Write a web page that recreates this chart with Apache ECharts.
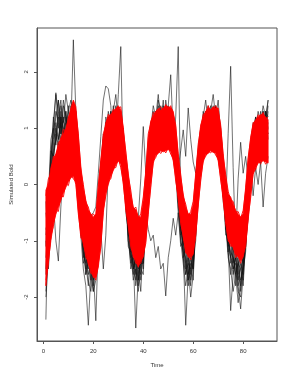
<!DOCTYPE html>
<html>
<head>
<meta charset="utf-8">
<script src="https://cdn.jsdelivr.net/npm/echarts@6/dist/echarts.min.js"></script>
<style>html,body{margin:0;padding:0;background:#fff}#c{width:291px;height:376px}</style>
</head>
<body>
<div id="c"></div>
<script>
// time points 1..90
var time = [];
for (var k = 1; k <= 90; k++) time.push(k);

var xTicks = [0, 20, 40, 60, 80];
var yTicks = [-2, -1, 0, 1, 2];

// red simulated band (upper / lower envelope of red lines)
var redUpper = [
-0.1,0.0,0.3,0.45,0.55,0.68,0.83,0.9,1.0,1.15,
1.36,1.5,1.38,0.85,0.32,-0.05,-0.28,-0.45,-0.52,-0.58,
-0.52,-0.05,0.45,0.85,1.1,1.2,1.25,1.3,1.35,1.4,
1.32,1.02,0.55,0.2,-0.17,-0.4,-0.45,-0.57,-0.58,-0.28,
0.25,0.83,1.13,1.22,1.3,1.35,1.32,1.36,1.4,1.38,
1.37,1.3,1.02,0.55,0.13,-0.17,-0.4,-0.52,-0.53,-0.35,
0.2,0.66,1.06,1.2,1.3,1.36,1.33,1.38,1.36,1.36,
1.02,0.55,0.13,-0.17,-0.22,-0.35,-0.46,-0.53,-0.58,-0.52,
-0.05,0.43,0.84,1.06,1.15,1.2,1.24,1.25,1.2,1.15];
var redLower = [
-1.8,-1.35,-1.0,-0.7,-0.53,-0.4,-0.28,-0.15,-0.05,0.05,
0.12,0.15,0.0,-0.53,-0.88,-1.06,-1.24,-1.42,-1.52,-1.65,
-1.65,-1.47,-1.06,-0.5,-0.15,0.0,0.15,0.25,0.35,0.42,
0.36,0.0,-0.4,-0.76,-1.06,-1.29,-1.35,-1.47,-1.35,-1.29,
-1.0,-0.53,0.0,0.38,0.52,0.55,0.6,0.58,0.6,0.62,
0.58,0.42,0.12,-0.28,-0.64,-0.94,-1.17,-1.29,-1.29,-1.24,
-0.88,-0.4,0.12,0.4,0.53,0.55,0.6,0.57,0.56,0.42,
0.12,-0.28,-0.64,-1.0,-1.06,-1.12,-1.24,-1.29,-1.35,-1.29,
-1.06,-0.64,-0.18,0.18,0.3,0.38,0.4,0.42,0.4,0.38];

// a few individual red lines along the edges of the band (jagged texture)
var redEdgeHi = [
-0.2,0.1,0.2,0.5,0.48,0.75,0.78,0.98,0.95,1.2,
1.3,1.45,1.3,0.9,0.25,0.0,-0.32,-0.4,-0.58,-0.52,
-0.6,0.0,0.38,0.9,1.05,1.25,1.18,1.34,1.3,1.36,
1.38,0.95,0.6,0.15,-0.1,-0.45,-0.4,-0.6,-0.52,-0.22,
0.2,0.9,1.08,1.28,1.25,1.32,1.38,1.3,1.42,1.33,
1.4,1.25,1.06,0.5,0.18,-0.22,-0.35,-0.56,-0.48,-0.3,
0.15,0.72,1.0,1.25,1.26,1.4,1.3,1.34,1.4,1.3,
1.06,0.5,0.18,-0.12,-0.28,-0.3,-0.5,-0.48,-0.6,-0.46,
-0.1,0.48,0.8,1.1,1.12,1.24,1.2,1.28,1.16,1.2];
var redEdgeLo = [
-1.7,-1.4,-0.92,-0.75,-0.45,-0.48,-0.2,-0.22,0.02,-0.02,
0.18,0.1,0.05,-0.48,-0.95,-1.0,-1.3,-1.36,-1.58,-1.6,
-1.7,-1.4,-1.12,-0.44,-0.2,0.06,0.1,0.3,0.3,0.46,
0.3,0.05,-0.46,-0.7,-1.12,-1.24,-1.4,-1.42,-1.4,-1.24,
-1.05,-0.48,-0.06,0.42,0.48,0.6,0.55,0.63,0.56,0.66,
0.54,0.46,0.06,-0.22,-0.7,-0.9,-1.22,-1.25,-1.34,-1.2,
-0.92,-0.35,0.06,0.44,0.5,0.6,0.56,0.62,0.52,0.46,
0.08,-0.22,-0.7,-0.95,-1.1,-1.08,-1.3,-1.25,-1.4,-1.24,
-1.1,-0.58,-0.24,0.22,0.26,0.42,0.36,0.46,0.36,0.42];

// black observed lines
var blackA = [
-0.9,-0.3,0.5,0.9,1.3,1.1,0.8,1.2,0.9,1.4,
1.0,2.57,1.3,0.4,-0.4,-1.2,-1.5,-1.3,-1.7,-1.4,
-1.6,-0.9,0.2,0.5,1.1,0.8,1.2,0.9,1.3,1.0,
1.2,0.6,-0.3,-0.9,-1.0,-1.5,-1.3,-1.7,-1.2,-1.3,
-0.3,0.4,0.7,1.2,0.9,1.3,1.0,1.4,1.1,0.9,
1.3,0.8,0.4,-0.3,-0.6,-1.3,-1.1,-1.6,-1.3,-1.5,
-0.5,0.1,0.9,0.8,1.2,1.0,1.3,0.9,1.4,0.8,
0.7,-0.2,-0.5,-1.1,-1.0,-1.5,-1.3,-1.7,-1.4,-1.6,
-0.8,0.1,0.4,0.9,0.7,1.1,0.8,1.2,0.9,1.1];
var blackB = [
-1.5,-0.8,0.1,0.6,0.8,1.2,1.5,0.9,1.1,0.7,
1.3,0.9,0.6,-0.1,-0.9,-1.0,-1.4,-1.8,-1.3,-1.6,
-1.2,-0.6,-0.2,0.8,0.6,1.2,0.9,1.4,0.8,1.6,
2.45,0.3,0.1,-1.0,-1.4,-1.2,-1.8,-1.4,-1.6,-0.9,
-0.7,0.5,1.0,0.7,1.3,0.9,1.2,0.8,1.3,1.4,
0.8,1.1,0.3,0.0,-0.9,-0.8,-1.5,-1.3,-1.8,-1.1,
-0.8,0.4,0.6,1.2,0.9,1.4,1.0,1.3,0.9,1.2,
0.4,0.3,-0.8,-0.8,-1.4,-1.2,-1.8,-1.3,-1.9,-1.2,
-1.1,-0.3,0.7,0.6,1.1,0.9,1.3,0.7,1.0,1.4];
var blackC = [
-0.5,-0.9,0.4,1.0,0.7,1.5,0.9,1.1,1.3,0.8,
1.2,1.0,0.5,0.3,-0.8,-0.9,-1.6,-1.2,-1.5,-1.9,
-1.3,-0.5,0.3,0.4,1.2,1.0,0.7,1.3,1.1,0.8,
1.1,0.7,-0.4,-0.6,-1.3,-1.6,-1.2,-1.5,-1.9,-1.0,
-0.4,0.1,1.1,0.9,0.8,1.4,1.2,0.9,1.5,1.2,
1.0,0.6,1.2,2.45,-0.2,-1.3,-1.6,-1.2,-1.7,-1.4,
-0.4,0.5,0.5,1.1,1.3,0.8,1.2,1.4,1.0,1.3,
0.5,0.2,-0.9,-0.9,-1.3,-1.6,-1.2,-1.8,-1.5,-1.3,
-0.6,0.2,0.3,1.0,1.2,0.8,1.1,1.3,0.9,1.3];
var blackD = [
-1.1,-0.1,0.2,0.7,1.1,0.8,1.3,1.0,0.7,1.2,
0.9,1.4,1.1,0.1,-0.3,-1.3,-1.1,-1.6,-1.4,-1.2,
-1.5,-1.1,0.1,0.8,0.7,1.1,1.3,0.8,1.2,1.3,
0.9,0.2,-0.1,-0.7,-1.1,-1.4,-1.7,-1.3,-1.5,-1.6,
-0.6,0.2,0.6,1.1,1.3,0.8,1.1,1.5,0.9,1.2,
1.1,1.2,0.6,-0.4,-0.8,-1.0,-1.4,-1.7,-1.3,-1.2,
-0.9,0.0,0.9,1.1,0.8,1.3,1.0,0.8,1.2,1.5,
0.9,-0.2,-0.4,0.9,2.1,0.3,-1.1,-1.4,-1.7,-1.5,
-1.2,-0.4,0.5,0.6,1.0,1.2,0.9,1.3,1.1,1.5];
var blackE = [
-0.3,-1.2,-0.6,0.4,0.9,0.6,1.2,0.8,1.3,0.9,
0.7,1.2,1.0,0.5,0.1,-0.7,-1.3,-1.1,-1.5,-1.3,
-1.0,-1.2,-0.8,-1.5,-0.9,0.3,0.8,1.1,0.7,1.2,
0.8,1.0,0.2,-0.5,-0.9,-1.2,-1.6,-1.1,-1.4,-1.3,
-0.8,-0.2,0.5,0.8,1.1,0.7,1.3,1.0,0.8,1.3,
0.9,0.5,0.7,0.3,0.6,0.97,0.5,1.36,0.8,0.4,
0.2,0.6,1.0,0.7,1.2,0.9,1.3,0.8,1.1,0.9,
0.3,0.1,-0.6,-1.2,-0.9,-1.4,-1.1,-1.6,-1.2,-1.4,
-1.0,-0.6,0.2,0.9,0.6,1.2,0.9,1.0,1.3,0.8];
var blackF = [
-1.9,-1.0,-0.3,0.5,0.8,1.2,0.9,1.4,1.1,0.6,
1.1,1.3,0.8,0.2,-0.2,-0.4,-0.6,-0.5,-0.55,-0.5,
-0.4,0.2,0.85,1.5,1.75,1.7,1.4,0.6,1.0,1.2,
0.9,0.5,0.0,-0.8,-1.0,-1.5,-1.4,-1.3,-1.7,-0.9,
-0.5,-0.8,-1.0,-0.9,-1.3,-1.1,-1.5,-1.4,-1.98,-1.3,
-1.0,-0.6,-0.9,-0.5,-1.1,-1.0,-1.4,-1.8,-1.5,-1.2,
-0.3,0.4,0.7,1.0,0.8,1.2,1.1,0.8,1.3,1.1,
0.6,0.2,-0.3,-1.0,-1.3,-1.1,-1.6,-1.4,-1.3,-1.8,
-1.0,0.0,0.6,0.8,1.0,0.7,1.2,0.8,1.0,0.9];
var blackG = [
-0.8,-0.6,0.2,1.1,1.6,1.3,1.0,1.5,1.2,0.9,
1.4,1.1,0.7,-0.2,-0.9,-1.5,-1.8,-2.5,-1.6,-1.9,
-1.7,-0.5,0.4,0.5,0.9,1.3,1.0,1.1,1.4,0.9,
1.3,0.9,-0.5,-0.8,-1.5,-1.3,-2.55,-1.6,-1.2,-1.5,
-0.2,0.6,0.8,1.3,1.0,1.5,1.3,1.0,1.2,0.8,
1.2,0.7,0.2,-0.5,-1.0,-1.4,-1.8,-1.5,-2.0,-1.6,
-0.7,0.3,0.8,1.3,1.0,1.1,1.4,1.2,0.9,1.0,
0.8,-0.3,-0.7,-1.3,-1.5,-1.9,-1.6,-2.1,-1.7,-1.5,
-0.9,-0.2,0.6,0.7,0.9,1.0,1.2,1.0,1.3,1.2];
var blackH = [
-2.0,-1.3,0.0,0.8,1.2,1.5,1.1,0.8,1.0,1.3,
0.9,1.2,1.0,0.0,-0.5,-1.4,-1.2,-1.7,-1.9,-1.5,
-2.42,-1.0,-0.3,0.7,1.0,0.7,1.2,1.0,0.8,1.1,
1.0,0.4,-0.2,-1.1,-1.2,-1.7,-1.5,-1.9,-1.4,-1.1,
-0.5,0.3,0.9,1.0,1.2,1.0,0.9,1.2,1.0,1.1,
1.1,0.9,0.5,0.1,-1.0,-1.2,-2.5,-1.6,-1.4,-1.7,
-0.6,0.1,0.7,0.9,1.1,1.3,0.9,1.2,1.0,0.8,
0.5,0.0,-0.5,-1.2,-1.6,-1.3,-1.5,-1.9,-2.0,-1.3,
-0.8,-0.1,0.4,1.0,0.8,0.9,1.1,1.0,0.8,1.0];
var blackI = [
-2.4,-0.4,0.6,0.5,1.0,0.8,1.1,0.7,1.2,1.0,
1.3,0.8,1.0,0.6,-0.6,-1.0,-1.3,-1.5,-1.2,-1.7,
-1.4,-0.8,0.0,0.6,0.8,1.0,0.7,1.2,1.0,1.3,
0.7,0.6,-0.3,-0.6,-1.2,-1.1,-1.5,-1.8,-1.3,-1.4,
-0.4,0.0,0.8,0.9,1.1,1.2,0.9,1.2,1.1,1.0,
0.9,1.0,0.7,-0.2,-0.5,-1.0,-1.2,-1.7,-1.5,-1.3,
-0.7,0.3,0.6,0.9,1.2,1.0,1.1,1.3,1.2,0.9,
0.7,0.2,-0.8,-1.1,-2.24,-1.6,-1.3,-1.8,-2.21,-1.6,
-0.7,-0.3,0.5,0.7,1.2,0.9,1.0,1.2,1.1,0.9];
var blackJ = [
-1.0,-1.5,-0.8,-0.3,-1.0,-1.36,-0.4,0.3,0.6,1.0,
0.8,1.0,1.3,0.8,-0.1,-0.9,-1.2,-1.4,-1.1,-1.3,
-1.1,-0.7,0.0,0.5,0.9,0.6,1.0,0.9,1.2,0.7,
0.9,0.8,0.0,-0.5,-1.1,-1.0,-1.3,-0.6,0.1,1.03,
0.2,0.5,0.5,0.7,0.9,1.1,0.8,1.3,1.0,0.8,
1.0,0.8,0.4,0.1,-0.4,-1.0,-1.1,-1.3,-1.6,-1.4,
-1.0,-0.2,0.4,0.8,0.7,1.1,0.9,1.1,0.8,1.2,
1.0,0.4,0.0,-0.6,-0.9,-1.2,-1.0,0.1,0.75,0.2,
0.5,0.1,0.4,-0.2,0.3,0.0,0.4,-0.4,0.2,0.5];
var blackK = [
-1.3,-0.7,0.5,1.2,0.9,0.7,1.2,1.0,0.8,1.1,
1.2,0.9,1.2,0.3,-0.7,-1.2,-1.4,-1.2,-1.6,-1.4,
-1.3,-0.7,0.2,0.9,0.6,0.9,1.3,1.1,0.9,1.2,
1.1,0.5,-0.1,-1.0,-1.3,-1.2,-1.4,-1.7,-1.3,-1.1,
-0.6,0.4,0.8,1.1,0.8,1.0,1.4,1.1,1.3,0.9,
1.2,1.0,0.4,-0.3,-0.8,-1.2,-1.3,-1.5,-1.2,-1.5,
-0.5,0.4,0.8,0.9,1.3,1.0,1.2,1.1,1.4,1.1,
0.5,-0.1,-0.6,-0.9,-1.2,-1.3,-1.6,-1.4,-1.5,-1.7,
-1.0,0.1,0.6,0.9,1.1,0.8,1.2,0.9,1.3,1.0];
var blackL = [
-1.6,-0.2,0.8,1.0,1.63,1.0,1.4,1.1,1.6,1.3,
1.5,1.2,0.9,0.1,-0.5,-1.1,-1.6,-1.4,-1.3,-1.8,
-1.3,-0.9,0.3,0.7,1.0,1.2,0.8,1.3,1.6,1.1,
0.9,0.5,-0.2,-0.8,-1.2,-1.5,-1.3,-1.5,-1.4,-1.4,
-0.5,0.3,1.0,1.4,1.2,1.6,1.1,1.3,1.0,1.4,
1.95,0.9,0.6,-0.1,-0.7,-1.1,-1.6,-1.4,-1.5,-1.2,
-0.6,0.2,0.9,1.2,1.5,1.1,1.3,1.6,1.2,1.0,
0.6,0.1,-0.5,-1.0,-1.3,-1.5,-1.4,-1.6,-1.8,-1.4,
-1.1,-0.2,0.7,1.1,1.0,1.3,1.1,1.4,1.2,1.5];

var blackLines = [blackA, blackB, blackC, blackD, blackE, blackF, blackG, blackH, blackI, blackJ, blackK, blackL];
var redLines = [redEdgeHi, redEdgeLo];

var axisColor = '#555';
var textColor = '#333';
var font = 'Liberation Sans';

function toPairs(arr) { return time.map(function (t, i) { return [t, arr[i]]; }); }

var series = blackLines.map(function (arr) {
  return {
    type: 'line', data: toPairs(arr), symbol: 'none', silent: true, z: 2,
    lineStyle: { color: '#111', width: 0.7, opacity: 0.85 }
  };
});

series.push({
  type: 'custom',
  silent: true,
  z: 5,
  data: [[1, 0]],
  renderItem: function (params, api) {
    var pts = [];
    for (var i = 0; i < time.length; i++) pts.push(api.coord([time[i], redUpper[i]]));
    for (var j = time.length - 1; j >= 0; j--) pts.push(api.coord([time[j], redLower[j]]));
    return {
      type: 'polygon',
      shape: { points: pts },
      style: { fill: '#ff0000', stroke: '#ff0000', lineWidth: 0.8 }
    };
  }
});

redLines.forEach(function (arr) {
  series.push({
    type: 'line', data: toPairs(arr), symbol: 'none', silent: true, z: 6,
    lineStyle: { color: '#ff0000', width: 0.9 }
  });
});

var chart = echarts.init(document.getElementById('c'), null, { renderer: 'canvas' });
chart.setOption({
  animation: false,
  backgroundColor: '#fff',
  grid: { left: 28, right: 14, top: 28, bottom: 35, show: true, borderColor: axisColor, borderWidth: 1, backgroundColor: 'transparent' },
  xAxis: {
    type: 'value', min: -2.56, max: 93.56,
    name: 'Time', nameLocation: 'middle', nameGap: 21,
    nameTextStyle: { fontFamily: font, fontSize: 6, color: textColor },
    axisLine: { show: true, onZero: false, lineStyle: { color: axisColor, width: 1 } },
    axisTick: { show: true, length: 3, lineStyle: { color: axisColor }, customValues: xTicks },
    axisLabel: { fontFamily: font, fontSize: 6, color: textColor, margin: 7, customValues: xTicks },
    splitLine: { show: false }
  },
  yAxis: {
    type: 'value', min: -2.78, max: 2.78,
    name: 'Simulated Bold', nameLocation: 'middle', nameGap: 23, nameRotate: 90,
    nameTextStyle: { fontFamily: font, fontSize: 6, color: textColor },
    axisLine: { show: true, onZero: false, lineStyle: { color: axisColor, width: 1 } },
    axisTick: { show: true, length: 3, lineStyle: { color: axisColor }, customValues: yTicks },
    axisLabel: { fontFamily: font, fontSize: 6, color: textColor, margin: 8, rotate: 90, customValues: yTicks },
    splitLine: { show: false }
  },
  series: series
});
</script>
</body>
</html>
